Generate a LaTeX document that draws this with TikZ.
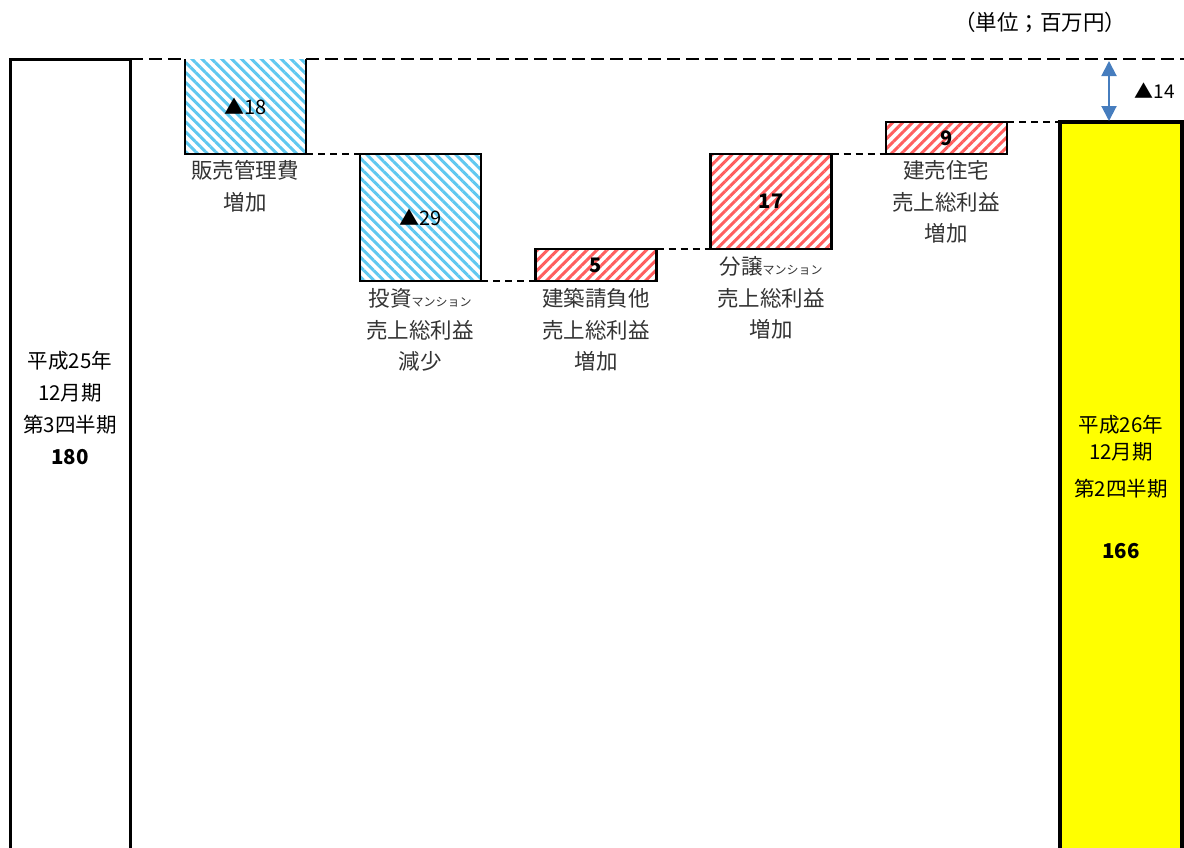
\documentclass[tikz,border=0pt]{standalone}
\usepackage{fontspec}
\setmainfont{Noto Sans CJK JP}
\usetikzlibrary{patterns.meta,arrows.meta}

\definecolor{skyb}{RGB}{95,200,240}
\definecolor{rose}{RGB}{255,95,95}
\definecolor{yel}{RGB}{255,255,0}
\definecolor{arr}{RGB}{70,125,190}

\tikzstyle{bar} = [draw, line width=3pt, inner sep=0pt, outer sep=0pt]
\tikzstyle{box} = [line width=2.5pt, inner sep=0pt, outer sep=0pt, minimum width=121pt]
\tikzstyle{dec} = [box, pattern={Lines[angle=-45,distance=7pt,line width=3pt]}, pattern color=skyb]
\tikzstyle{inc} = [box, draw, pattern={Lines[angle=45,distance=7pt,line width=3pt]}, pattern color=rose]
\tikzstyle{link} = [draw, line width=1.5pt, dash pattern=on 7pt off 5pt]
\tikzstyle{lab} = [align=center, text=black!80, font=\fontsize{21.5pt}{31.5pt}\selectfont]
\tikzstyle{num} = [font=\fontsize{20pt}{22pt}\selectfont]

\begin{document}
\begin{tikzpicture}[x=1pt,y=-1pt]
\useasboundingbox (0,0) rectangle (1184,847);
%bars
\node[bar, minimum width=120pt, minimum height=861pt] (q3) at (70,489.5) {};
\node[bar, line width=4pt, fill=yel, minimum width=122pt, minimum height=798pt] (q2) at (1121,521) {};
\coordinate (e) at (1184,59);

%boxes
\node[dec, minimum height=95pt] (b1) at (245.5,106.5) {};
\draw[line width=2.5pt] (b1.north west) -- (b1.south west) -- (b1.south east) -- (b1.north east);
\node[dec, draw, minimum height=127pt] (b2) at (420.5,217.5) {};
\node[inc, minimum height=32pt] (b3) at (596,265) {};
\node[inc, minimum height=95pt] (b4) at (771,201.5) {};
\node[inc, minimum height=32pt] (b5) at (946.5,138) {};

\node[num] at (b1) {▲18};
\node[num] at (b2) {▲29};
\node[num, font=\fontsize{20pt}{22pt}\bfseries] at (b3) {5};
\node[num, font=\fontsize{20pt}{22pt}\bfseries] at (b4) {17};
\node[num, font=\fontsize{20pt}{22pt}\bfseries] at (b5) {9};

%lines
\path[link, line width=2.8pt, dash pattern=on 13pt off 6pt] (q3.north east) -- (b1.north west);
\path[link, line width=2.8pt, dash pattern=on 13pt off 6pt] (b1.north east) -- (e);
\path[link] (b1.south east) -- (b2.north west);
\path[link] (b2.south east) -- (b3.south west);
\path[link] (b3.north east) -- (b4.south west);
\path[link] (b4.north east) -- (b5.south west);
\path[link] (b5.north east) -- (q2.north west);

%labels
\node[lab] (l1) at (245,186.5) {販売管理費\\増加};
\node[lab] (l2) at (420,330) {投資{\fontsize{12pt}{12pt}\selectfont マンション}\\売上総利益\\減少};
\node[lab] (l3) at (596,330) {建築請負他\\売上総利益\\増加};
\node[lab] (l4) at (771,298) {分譲{\fontsize{12pt}{12pt}\selectfont マンション}\\売上総利益\\増加};
\node[lab] (l5) at (946,202) {建売住宅\\売上総利益\\増加};

\node[lab, text=black, font=\fontsize{20.5pt}{32pt}\selectfont] (t3) at (70,408) {平成25年\\12月期\\第3四半期\\\textbf{180}};
\node[lab, text=black, font=\fontsize{20.5pt}{27pt}\selectfont] (t2a) at (1121,438.5) {平成26年\\12月期};
\node[lab, text=black, font=\fontsize{20.5pt}{27pt}\selectfont] (t2b) at (1121,489) {第2四半期};
\node[lab, text=black, font=\fontsize{20.5pt}{27pt}\bfseries] (t2c) at (1121,551) {166};

%difference
\coordinate (d1) at (1109,61);
\coordinate (d2) at (1109,121);
\draw[{Triangle[length=15pt,width=15pt]}-{Triangle[length=15pt,width=15pt]}, line width=2pt, color=arr] (d1) -- (d2);
\node[lab, text=black, font=\fontsize{19pt}{20pt}\selectfont] (d) at (1155,91) {▲14};

\node[lab, text=black] (u) at (1040,22) {（単位；百万円）};
\end{tikzpicture}
\end{document}
